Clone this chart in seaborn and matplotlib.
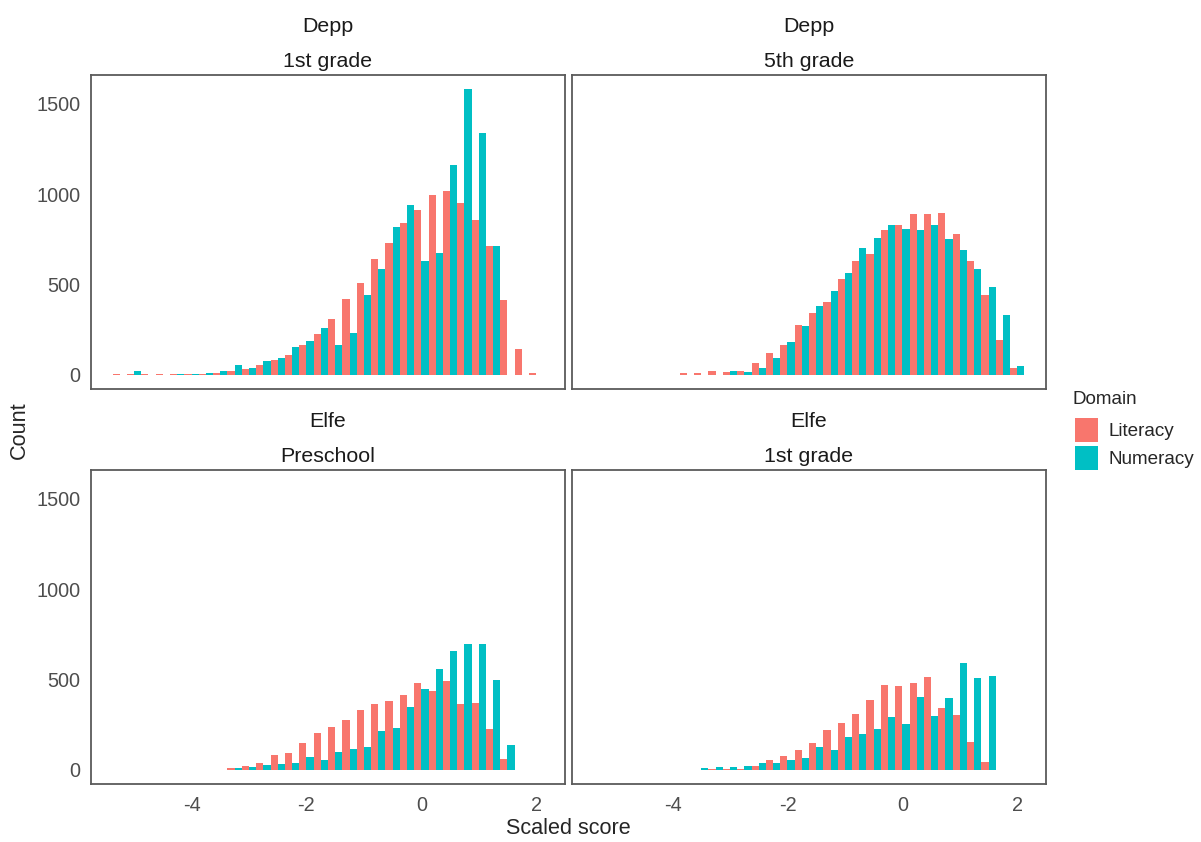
import matplotlib
matplotlib.use('Agg')
import matplotlib.pyplot as plt
from matplotlib.patches import Patch
import pandas as pd
import seaborn as sns

# bin centres (width 0.25) shared by every panel
SCORES = [-5.25, -5.0, -4.75, -4.5, -4.25, -4.0, -3.75, -3.5, -3.25, -3.0,
          -2.75, -2.5, -2.25, -2.0, -1.75, -1.5, -1.25, -1.0, -0.75, -0.5,
          -0.25, 0.0, 0.25, 0.5, 0.75, 1.0, 1.25, 1.5, 1.75, 2.0]

depp_1st_lit = [5, 5, 5, 5, 5, 5, 5, 12, 20, 30, 52, 80, 109, 166, 223, 309, 418, 505, 641, 728,
                838, 910, 996, 1019, 952, 858, 715, 411, 144, 7]
depp_1st_num = [0, 20, 0, 0, 5, 5, 12, 20, 52, 37, 74, 94, 153, 186, 260, 164, 230, 440, 584, 816,
                939, 628, 672, 1162, 1580, 1337, 715, 0, 0, 0]

depp_5th_lit = [0, 0, 0, 0, 0, 0, 7, 7, 22, 13, 22, 66, 122, 166, 274, 339, 403, 532, 628, 670,
                799, 829, 888, 888, 895, 779, 628, 440, 193, 35]
depp_5th_num = [0, 0, 0, 0, 0, 0, 0, 0, 0, 22, 15, 35, 94, 180, 267, 381, 462, 562, 700, 757,
                829, 807, 799, 829, 750, 693, 584, 483, 332, 50]

elfe_pre_lit = [0, 0, 0, 0, 0, 0, 0, 0, 9, 18, 39, 83, 90, 146, 204, 234, 278, 328, 365, 378,
                413, 479, 435, 492, 363, 370, 227, 61, 0, 0]
elfe_pre_num = [0, 0, 0, 0, 0, 0, 0, 0, 7, 17, 24, 31, 39, 68, 52, 96, 112, 125, 212, 232,
                348, 449, 558, 658, 694, 694, 499, 138, 0, 0]

elfe_1st_lit = [0, 0, 0, 0, 0, 0, 0, 0, 5, 5, 5, 22, 52, 74, 111, 146, 219, 260, 311, 385,
                470, 464, 479, 514, 341, 304, 153, 44, 0, 0]
elfe_1st_num = [0, 0, 0, 0, 0, 0, 0, 7, 17, 17, 22, 37, 37, 52, 66, 125, 111, 182, 197, 227,
                291, 254, 405, 297, 398, 593, 506, 521, 0, 0]

PANELS = [("Depp", "1st grade", depp_1st_lit, depp_1st_num),
          ("Depp", "5th grade", depp_5th_lit, depp_5th_num),
          ("Elfe", "Preschool", elfe_pre_lit, elfe_pre_num),
          ("Elfe", "1st grade", elfe_1st_lit, elfe_1st_num)]

DOMAINS = ["Literacy", "Numeracy"]
COLORS = {"Literacy": "#F8766D", "Numeracy": "#00BFC4"}


def build_frame():
	rows = []
	for cohort, grade, lit, num in PANELS:
		for domain, counts in zip(DOMAINS, (lit, num)):
			for s, c in zip(SCORES, counts):
				rows.append({"cohort": cohort, "grade": grade, "domain": domain,
				             "score": s, "count": c})
	return pd.DataFrame(rows)


def main():
	df = build_frame()

	sns.set_style("white")
	plt.rcParams['font.family'] = ['Liberation Sans', 'DejaVu Sans']
	plt.rcParams['axes.unicode_minus'] = False

	fig, axes = plt.subplots(2, 2, figsize=(12.01, 8.42), dpi=100, sharex=True, sharey=True)
	fig.subplots_adjust(left=91 / 1201, right=1046 / 1201, top=1 - 75 / 842,
	                    bottom=1 - 784 / 842, wspace=0.015, hspace=0.258)

	for ax, (cohort, grade, _, _) in zip(axes.flat, PANELS):
		sub = df[(df.cohort == cohort) & (df.grade == grade)]
		sns.histplot(data=sub, x="score", weights="count", hue="domain",
		             hue_order=DOMAINS, palette=COLORS, multiple="dodge",
		             binwidth=0.25, binrange=(-5.375, 2.125), shrink=1,
		             alpha=1, linewidth=0, legend=False, ax=ax)
		ax.set_xlim(-5.75, 2.5)
		ax.set_ylim(-79, 1659)
		ax.set_xticks([-4, -2, 0, 2])
		ax.set_yticks([0, 500, 1000, 1500])
		ax.set_xlabel("")
		ax.set_ylabel("")
		for sp in ax.spines.values():
			sp.set_visible(True)
			sp.set_color("#5a5a5a")
			sp.set_linewidth(1.3)
		ax.tick_params(axis="both", colors="#444444", labelcolor="#4d4d4d",
		               labelsize=14.3, length=4, width=1, pad=3.6)
		ax.tick_params(axis="x", pad=4.8)
		ax.annotate(cohort, xy=(0.5, 1), xycoords="axes fraction", xytext=(0, 35),
		            textcoords="offset points", ha="center", va="center",
		            fontsize=15.4, color="#1a1a1a")
		ax.annotate(grade, xy=(0.5, 1), xycoords="axes fraction", xytext=(0, 10),
		            textcoords="offset points", ha="center", va="center",
		            fontsize=15.4, color="#1a1a1a")

	# inner axes carry no ticks, as in a wrapped facet
	for ax in axes[0, :]:
		ax.tick_params(axis="x", length=0)
	for ax in axes[:, 1]:
		ax.tick_params(axis="y", length=0)

	fig.text(19 / 1201, 1 - 430 / 842, "Count", rotation=90, ha="center", va="center",
	         fontsize=15.6)
	fig.text(568 / 1201, 1 - 829 / 842, "Scaled score", ha="center", va="center",
	         fontsize=15.6)

	# legend: title drawn separately so the gap under it can differ from the key gap
	fig.text(1072 / 1201, 1 - 400 / 842, "Domain", ha="left", va="center", fontsize=13.6)
	handles = [Patch(facecolor=COLORS[d], edgecolor="none") for d in DOMAINS]
	fig.legend(handles, DOMAINS, loc="upper left",
	           bbox_to_anchor=(1075 / 1201, 1 - 418 / 842), frameon=False,
	           fontsize=13.6, handlelength=1.22, handleheight=1.58,
	           labelspacing=0.2, handletextpad=0.53, borderpad=0, borderaxespad=0)

	fig.savefig("out.png", dpi=100)


if __name__ == "__main__":
	main()
